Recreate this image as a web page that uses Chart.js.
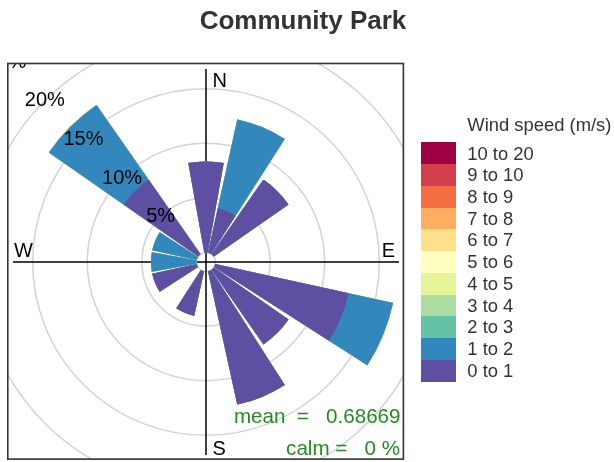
<!DOCTYPE html>
<html><head><meta charset="utf-8">
<script src="https://cdn.jsdelivr.net/npm/chart.js@4/dist/chart.umd.min.js"></script>
<style>html,body{margin:0;padding:0;background:#fff;}</style>
</head><body>
<canvas id="c" width="614" height="462" style="display:block;width:614px;height:462px"></canvas>
<script>
const chartTitle = 'Community Park';
const legendTitle = 'Wind speed (m/s)';
const directions = ['N','NNE','NE','ENE','E','ESE','SE','SSE','S','SSW','SW','WSW','W','WNW','NW','NNW'];
const speedBins = ['0 to 1','1 to 2','2 to 3','3 to 4','4 to 5','5 to 6','6 to 7','7 to 8','8 to 9','9 to 10','10 to 20'];
const binColors = ['#5E4FA2','#3288BD','#66C2A5','#ABDDA4','#E6F598','#FFFFBF','#FEE08B','#FDAE61','#F46D43','#D53E4F','#9E0142'];
// frequency (%) by direction, one array per speed bin
const freq0to1  = [8.333,4.167,8.333,0,0,12.5,8.333,12.5,0,4.167,0,4.167,0,0,8.333,0];
const freq1to2  = [0,8.333,0,0,0,4.167,0,0,0,0,0,0,4.167,4.167,8.333,0];
const freq2to3  = [0,0,0,0,0,0,0,0,0,0,0,0,0,0,0,0];
const freq3to4  = [0,0,0,0,0,0,0,0,0,0,0,0,0,0,0,0];
const freq4to5  = [0,0,0,0,0,0,0,0,0,0,0,0,0,0,0,0];
const freq5to6  = [0,0,0,0,0,0,0,0,0,0,0,0,0,0,0,0];
const freq6to7  = [0,0,0,0,0,0,0,0,0,0,0,0,0,0,0,0];
const freq7to8  = [0,0,0,0,0,0,0,0,0,0,0,0,0,0,0,0];
const freq8to9  = [0,0,0,0,0,0,0,0,0,0,0,0,0,0,0,0];
const freq9to10 = [0,0,0,0,0,0,0,0,0,0,0,0,0,0,0,0];
const freq10to20= [0,0,0,0,0,0,0,0,0,0,0,0,0,0,0,0];
const gridTicks = [5, 10, 15, 20, 25];
const gridTickLabels = ['5%', '10%', '15%', '20%', '25%'];
const meanSpeed = '0.68669';
const calmPercent = '0';

const binFreqs = [freq0to1,freq1to2,freq2to3,freq3to4,freq4to5,freq5to6,freq6to7,freq7to8,freq8to9,freq9to10,freq10to20];
const SECTOR = 20.25, GAP = 2.25;
const FONT = 'Liberation Sans, Arial, Helvetica, sans-serif';

// labels: each direction followed by an empty gap slot
const labels = [];
directions.forEach(d => { labels.push(d); labels.push(''); });
const datasets = speedBins.map((bin, j) => {
  const data = [];
  directions.forEach((d, i) => {
    let cum = 0;
    for (let k = 0; k <= j; k++) cum += binFreqs[k][i];
    data.push(cum); data.push(0);
  });
  return {
    label: bin,
    data,
    backgroundColor: (ctx) => ctx.dataIndex % 2 === 0 ? binColors[j] : 'rgba(0,0,0,0)',
    borderWidth: 0,
    angle: (ctx) => ctx.dataIndex % 2 === 0 ? SECTOR : GAP
  };
});

const legendBox = {
  position: 'right', weight: 0, fullSize: false,
  options: { stackWeight: 1 },
  width: 194, height: 0, left: 0, top: 0, right: 0, bottom: 0,
  chart: null,
  isHorizontal() { return false; },
  update(maxWidth, maxHeight) { this.width = 194; this.height = maxHeight; },
  draw() {
    const ctx = this.chart.ctx;
    const n = speedBins.length, rowH = 21.73, boxW = 34.7;
    const boxX = this.left + 17;
    const cy = (this.top + this.bottom) / 2;
    const top = cy - n * rowH / 2;
    ctx.save();
    ctx.fillStyle = '#333333';
    ctx.font = '18.4px ' + FONT;
    ctx.textAlign = 'left'; ctx.textBaseline = 'middle';
    ctx.fillText(legendTitle, boxX + 46.3, top - 16.2);
    for (let i = 0; i < n; i++) {
      const b = n - 1 - i;
      const y0 = Math.round(top + i * rowH), y1 = Math.round(top + (i + 1) * rowH);
      ctx.fillStyle = binColors[b];
      ctx.fillRect(Math.round(boxX), y0, Math.round(boxW), y1 - y0);
      ctx.fillStyle = '#333333';
      ctx.fillText(speedBins[b], boxX + 46.3, top + (i + 0.55) * rowH);
    }
    ctx.restore();
  }
};

const windRose = {
  id: 'windRose',
  beforeInit(chart) {
    legendBox.chart = chart;
    if (Chart.layouts && Chart.layouts.addBox) Chart.layouts.addBox(chart, legendBox);
  },
  afterDatasetsUpdate(chart) {
    const s = chart.scales.r;
    const r0 = s.getDistanceFromCenterForValue(0);
    chart.data.datasets.forEach((d, i) => {
      chart.getDatasetMeta(i).data.forEach(el => { el.innerRadius = r0; });
    });
  },
  beforeDatasetsDraw(chart) {
    const ctx = chart.ctx, ca = chart.chartArea, s = chart.scales.r;
    const cx = s.xCenter, cy = s.yCenter;
    ctx.save();
    ctx.beginPath(); ctx.rect(ca.left, ca.top, ca.right - ca.left, ca.bottom - ca.top); ctx.clip();
    ctx.strokeStyle = '#d3d3d3'; ctx.lineWidth = 1.5;
    [0].concat(gridTicks).forEach(v => {
      ctx.beginPath(); ctx.arc(cx, cy, s.getDistanceFromCenterForValue(v), 0, Math.PI * 2); ctx.stroke();
    });
    const L = s.drawingArea - 5;
    ctx.strokeStyle = '#000'; ctx.lineWidth = 1.5;
    ctx.beginPath();
    ctx.moveTo(cx, cy - L); ctx.lineTo(cx, cy + L);
    ctx.moveTo(cx - L, cy); ctx.lineTo(cx + L, cy);
    ctx.stroke();
    ctx.restore();
  },
  afterDatasetsDraw(chart) {
    const ctx = chart.ctx, ca = chart.chartArea, s = chart.scales.r;
    const cx = s.xCenter, cy = s.yCenter;
    const L = s.drawingArea - 5;
    ctx.save();
    ctx.beginPath(); ctx.rect(ca.left, ca.top, ca.right - ca.left, ca.bottom - ca.top); ctx.clip();
    ctx.fillStyle = '#000';
    ctx.font = '20px ' + FONT;
    ctx.textAlign = 'center'; ctx.textBaseline = 'middle';
    gridTicks.forEach((v, i) => {
      const r = s.getDistanceFromCenterForValue(v) * Math.SQRT1_2;
      ctx.fillText(gridTickLabels[i], cx - r, cy - r);
    });
    ctx.textBaseline = 'alphabetic';
    ctx.textAlign = 'left';
    ctx.fillText('N', cx + 6.5, cy - L + 18);
    ctx.fillText('S', cx + 6.5, cy + L);
    ctx.fillText('W', cx - L + 1, cy - 5);
    ctx.textAlign = 'right';
    ctx.fillText('E', cx + L - 4, cy - 5);
    ctx.fillStyle = '#228B22';
    ctx.font = '20.6px ' + FONT;
    ctx.fillText('mean  =   ' + meanSpeed, ca.right - 3.5, ca.bottom - 37.3);
    ctx.fillText('calm =   ' + calmPercent + ' %', ca.right - 4, ca.bottom - 5);
    ctx.restore();
    ctx.save();
    ctx.strokeStyle = '#333333'; ctx.lineWidth = 1.6;
    ctx.strokeRect(ca.left - 0.2, ca.top - 0.5, ca.right - ca.left - 0.4, ca.bottom - ca.top - 0.4);
    ctx.restore();
  }
};

new Chart(document.getElementById('c'), {
  type: 'polarArea',
  data: { labels, datasets },
  options: {
    responsive: false,
    animation: false,
    events: [],
    layout: { padding: { left: 8, right: 16, top: 0, bottom: 2 } },
    scales: {
      r: {
        min: -0.87, max: 17.26,
        startAngle: -SECTOR / 2,
        ticks: { display: false },
        grid: { display: false },
        angleLines: { display: false },
        pointLabels: { display: false }
      }
    },
    plugins: {
      legend: { display: false },
      tooltip: { enabled: false },
      title: {
        display: true, text: chartTitle, color: '#333333',
        font: { family: FONT, size: 26, weight: 'bold', lineHeight: 1.2 },
        padding: { top: 6.7, bottom: 26.1 }
      }
    }
  },
  plugins: [windRose]
});
</script>
</body></html>
